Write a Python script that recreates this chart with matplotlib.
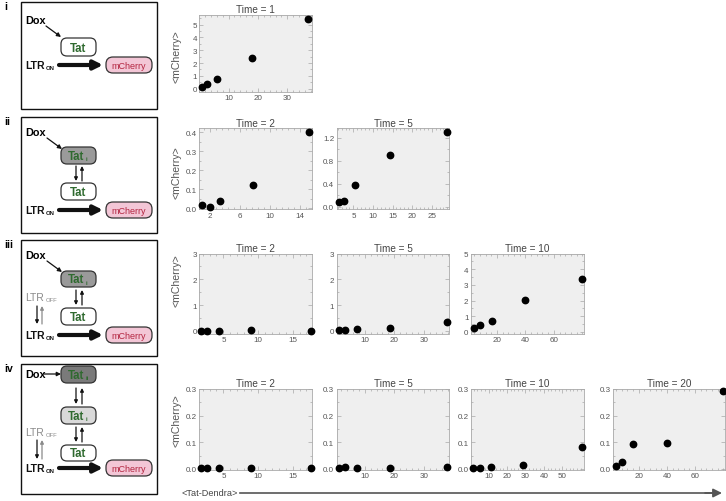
import matplotlib
matplotlib.use("Agg")
import matplotlib.pyplot as plt
from matplotlib.patches import FancyBboxPatch, Rectangle
from matplotlib.ticker import AutoMinorLocator, FormatStrFormatter

plt.rcParams["font.family"] = ["Liberation Sans", "DejaVu Sans"]

W, H = 726, 502

# <Tat-Dendra> (x) vs <mCherry> (y), one list per time point, one block per model row
row1_times = [1]
row1_x = [[0.95, 2.7, 6.1, 17.9, 37.1]]
row1_y = [[0.13, 0.36, 0.73, 2.37, 5.44]]

row2_times = [2, 5]
row2_x = [[0.9, 2.0, 3.3, 7.8, 15.2],
          [1.4, 2.6, 5.4, 14.3, 28.8]]
row2_y = [[0.016, 0.007, 0.037, 0.125, 0.40],
          [0.073, 0.096, 0.374, 0.895, 1.30]]

row3_times = [2, 5, 10]
row3_x = [[1.8, 2.6, 4.3, 9.0, 17.6],
          [1.5, 3.4, 7.6, 18.7, 37.7],
          [4.2, 8.2, 16.3, 40.0, 79.5]]
row3_y = [[0.01, 0.01, 0.01, 0.02, 0.01],
          [0.02, 0.02, 0.08, 0.11, 0.33],
          [0.28, 0.47, 0.70, 2.06, 3.38]]

row4_times = [2, 5, 10, 20]
row4_x = [[1.8, 2.6, 4.3, 9.0, 17.6],
          [1.5, 3.4, 7.6, 18.7, 37.7],
          [1.8, 5.4, 11.2, 28.8, 60.5],
          [4.2, 8.2, 16.3, 40.0, 79.5]]
row4_y = [[0.002, 0.002, 0.002, 0.003, 0.002],
          [0.003, 0.008, 0.003, 0.003, 0.008],
          [0.003, 0.003, 0.006, 0.016, 0.081],
          [0.012, 0.025, 0.092, 0.097, 0.291]]

# x ticks, y ticks and tick label format per panel
row1_xticks = [[10, 20, 30]]
row1_yticks = [[0, 1, 2, 3, 4, 5]]
row2_xticks = [[2, 6, 10, 14], [5, 10, 15, 20, 25]]
row2_yticks = [[0, 0.1, 0.2, 0.3, 0.4], [0, 0.4, 0.8, 1.2]]
row3_xticks = [[5, 10, 15], [10, 20, 30], [20, 40, 60]]
row3_yticks = [[0, 1, 2, 3], [0, 1, 2, 3], [0, 1, 2, 3, 4, 5]]
row4_xticks = [[5, 10, 15], [10, 20, 30], [10, 20, 30, 40, 50], [20, 40, 60]]
row4_yticks = [[0, 0.1, 0.2, 0.3]] * 4

# panel geometry (pixels) and axis ranges
col_px = [(199.5, 312), (336.7, 449.3), (471, 584), (613, 725)]
row_px = [(16, 93), (129.3, 210), (254.5, 334.5), (390, 471)]
row1_lims = [((0.1, 38.4), (-0.26, 5.75))]
row2_lims = [((0.62, 15.6), (-0.004, 0.421)), ((0.74, 29.5), (-0.04, 1.36))]
row3_lims = [((1.55, 17.8), (-0.1, 3.0)), ((0.6, 38.5), (-0.1, 3.0)), ((1.8, 81.2), (-0.1, 5.0))]
row4_lims = [((1.55, 17.8), (-0.004, 0.3)), ((0.6, 38.5), (-0.004, 0.3)),
             ((0.5, 61.8), (-0.004, 0.3)), ((1.8, 81.2), (-0.004, 0.3))]
row_fmt = ["%d", "%.1f", "%d", "%.1f"]
ylabel_y = [57, 173, 281, 421]

FRAME = "#a8a8a8"
TICKTXT = "#555555"
GREEN = "#2f6a2f"


def px_axes(fig, left, top, right, bottom):
    return fig.add_axes([left / W, 1 - bottom / H, (right - left) / W, (bottom - top) / H])


def rounded(ax, x0, y0, x1, y1, fc, ec="#333333", r=6, lw=0.9):
    ax.add_patch(FancyBboxPatch((x0, y0), x1 - x0, y1 - y0,
                                boxstyle=f"round,pad=0,rounding_size={r}",
                                fc=fc, ec=ec, lw=lw))


def arrow(ax, start, end, color="#111111", lw=0.9, scale=6):
    ax.annotate("", xy=end, xytext=start,
                arrowprops=dict(arrowstyle="-|>", color=color, lw=lw,
                                mutation_scale=scale, shrinkA=0, shrinkB=0))


def tat_box(ax, y0, y1, fc, sub=""):
    rounded(ax, 61, y0, 96, y1, fc)
    cy = (y0 + y1) / 2 + 0.5
    if sub:
        ax.text(76, cy, "Tat", ha="center", va="center", fontsize=8.3,
                fontweight="bold", color=GREEN)
        ax.text(85.5, cy + 3, sub, ha="left", va="center", fontsize=4.3,
                fontweight="bold", color=GREEN)
    else:
        ax.text(78.5, cy, "Tat", ha="center", va="center", fontsize=8.3,
                fontweight="bold", color=GREEN)


def ltr(ax, y, state, color="#111111", bold=True):
    ax.text(25, y, "LTR", ha="left", va="center", fontsize=7.5,
            fontweight="bold" if bold else "normal", color=color)
    ax.text(46, y + 3, state, ha="left", va="center", fontsize=4.2,
            fontweight="bold" if bold else "normal", color=color)


def expression(ax, y):
    ltr(ax, y, "ON")
    arrow(ax, (59, y), (103, y), lw=3.0, scale=13)
    rounded(ax, 106, y - 8, 152, y + 8, "#f3c6d6", r=7)
    ax.text(129, y + 0.5, "mCherry", ha="center", va="center", fontsize=6.5, color="#b3243f")


def updown(ax, x_down, x_up, y0, y1, c_down="#111111", c_up="#111111"):
    arrow(ax, (x_down, y0), (x_down, y1), color=c_down, lw=0.9, scale=5)
    arrow(ax, (x_up, y1), (x_up, y0), color=c_up, lw=0.9, scale=5)


fig = plt.figure(figsize=(W / 100, H / 100), dpi=100)

# ---- schematic overlay in pixel coordinates ----
ov = fig.add_axes([0, 0, 1, 1])
ov.set_xlim(0, W)
ov.set_ylim(H, 0)
ov.axis("off")

for label, (y0, y1) in zip(["i", "ii", "iii", "iv"], [(3, 110), (118, 234), (241, 357), (365, 495)]):
    ov.add_patch(Rectangle((21, y0), 136, y1 - y0, fc="white", ec="#111111", lw=1.0))
    ov.text(4, y0 + 4, label, ha="left", va="center", fontsize=7.5, fontweight="bold")

# i
ov.text(25, 21, "Dox", ha="left", va="center", fontsize=7.8, fontweight="bold")
arrow(ov, (46, 27), (61, 38))
tat_box(ov, 39, 57, "white")
expression(ov, 66)

# ii
ov.text(25, 133, "Dox", ha="left", va="center", fontsize=7.8, fontweight="bold")
arrow(ov, (47, 139), (62, 150))
tat_box(ov, 148, 165, "#9a9a9a", "i")
updown(ov, 76, 82, 167, 182)
tat_box(ov, 184, 201, "white")
expression(ov, 211)

# iii
ov.text(25, 256, "Dox", ha="left", va="center", fontsize=7.8, fontweight="bold")
arrow(ov, (47, 262), (62, 273))
tat_box(ov, 272, 288, "#9a9a9a", "i")
updown(ov, 76, 82, 291, 306)
tat_box(ov, 309, 326, "white")
ltr(ov, 298, "OFF", color="#8a8a8a", bold=False)
updown(ov, 37, 42, 307, 325, c_up="#8a8a8a")
expression(ov, 336)

# iv
ov.text(25, 375, "Dox", ha="left", va="center", fontsize=7.8, fontweight="bold")
arrow(ov, (44, 375), (61, 375))
tat_box(ov, 367, 384, "#7a7a7a", "ii")
updown(ov, 76, 82, 389, 405)
tat_box(ov, 408, 425, "#d9d9d9", "i")
updown(ov, 76, 82, 428, 443)
tat_box(ov, 446, 462, "white")
ltr(ov, 433, "OFF", color="#8a8a8a", bold=False)
updown(ov, 37, 42, 441, 460, c_up="#8a8a8a")
expression(ov, 469)

# bottom axis label with long arrow
ov.text(181, 494, "<Tat-Dendra>", ha="left", va="center", fontsize=6.6, color="#444444")
ov.plot([240, 714], [494, 494], color="#555555", lw=1.2)
arrow(ov, (705, 494), (722, 494), color="#555555", lw=1.2, scale=13)

# ---- data panels ----
rows = [
    (row1_times, row1_x, row1_y, row1_xticks, row1_yticks, row1_lims),
    (row2_times, row2_x, row2_y, row2_xticks, row2_yticks, row2_lims),
    (row3_times, row3_x, row3_y, row3_xticks, row3_yticks, row3_lims),
    (row4_times, row4_x, row4_y, row4_xticks, row4_yticks, row4_lims),
]

for r, (times, xs, ys, xt, yt, lims) in enumerate(rows):
    top, bottom = row_px[r]
    for c, t in enumerate(times):
        left, right = col_px[c]
        ax = px_axes(fig, left, top, right, bottom)
        ax.set_facecolor("#efefef")
        ax.plot(xs[c], ys[c], "o", color="black", markersize=4.6, clip_on=False, zorder=3)
        ax.set_xlim(*lims[c][0])
        ax.set_ylim(*lims[c][1])
        ax.set_xticks(xt[c])
        ax.set_yticks(yt[c])
        ax.yaxis.set_major_formatter(FormatStrFormatter(row_fmt[r]))
        ax.xaxis.set_minor_locator(AutoMinorLocator(5))
        ax.yaxis.set_minor_locator(AutoMinorLocator(2))
        ax.tick_params(which="both", direction="in", top=True, right=True,
                       color=FRAME, width=0.5, labelsize=5.8, labelcolor=TICKTXT, pad=1.8)
        ax.tick_params(which="major", length=3)
        ax.tick_params(which="minor", length=1.5)
        for sp in ax.spines.values():
            sp.set_color(FRAME)
            sp.set_linewidth(0.6)
        ax.set_title(f"Time = {t}", fontsize=7.2, color="#444444", pad=2)

    fig.text(177 / W, 1 - ylabel_y[r] / H, "<mCherry>", rotation=90, ha="center", va="center",
             fontsize=7.6, color="#555555")

fig.savefig("out.png", dpi=100)
